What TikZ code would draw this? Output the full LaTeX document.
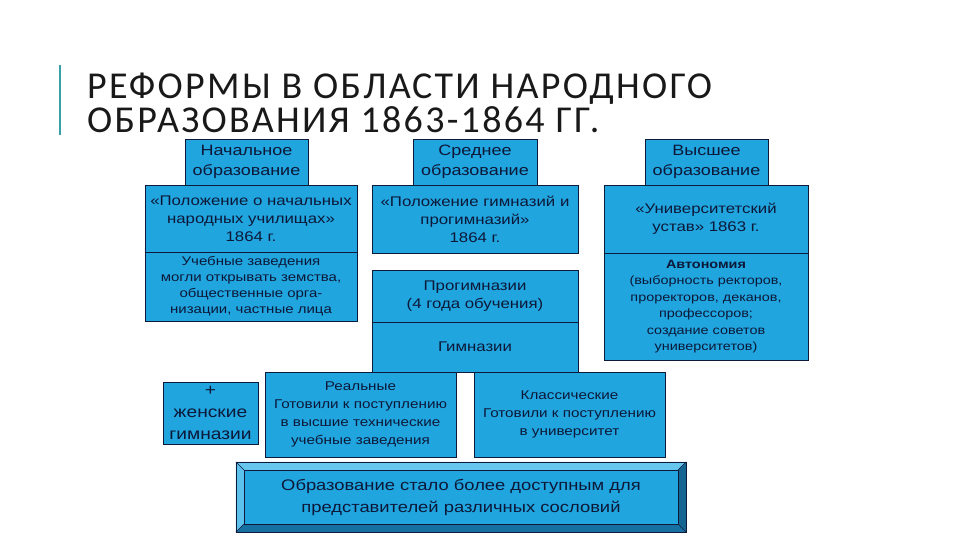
\documentclass[tikz,border=0pt]{standalone}
\usepackage{fontspec}
\setmainfont[FakeStretch=1.2]{Liberation Sans}
\newfontfamily\titlefont[LetterSpace=6]{Carlito}
\definecolor{boxfill}{HTML}{20A5DF}
\definecolor{boxline}{HTML}{0E1A3A}
\definecolor{boxtext}{HTML}{0C1838}
\definecolor{bevellight}{HTML}{66C6EE}
\definecolor{beveldark}{HTML}{1670A2}
\definecolor{titlebar}{HTML}{3A9FA8}
\begin{document}
\begin{tikzpicture}[x=1pt,y=-1pt,
 level/.style={draw=boxline,fill=boxfill,text=boxtext,inner sep=0pt,align=center,
   font=\fontsize{15}{20}\selectfont},
 act/.style={level,font=\fontsize{14}{18}\selectfont},
 note/.style={level,font=\fontsize{12}{16.5}\selectfont},
 kind/.style={level,font=\fontsize{12.7}{18}\selectfont},
 heading/.style={anchor=base west,inner sep=0pt,text=black!90,text height=24pt,text depth=0pt,
   font=\titlefont\fontsize{38}{38}\selectfont},
 bevel/.style={draw=boxline,line width=0.6pt}
]
\useasboundingbox (0,0) rectangle (960,540);
% title
\draw[titlebar,line width=2pt] (60,65) -- (60,135);
\node[heading] (titleupper) at (87,99) {РЕФОРМЫ В ОБЛАСТИ НАРОДНОГО};
\node[heading] (titlelower) at (87,133) {ОБРАЗОВАНИЯ 1863-1864 ГГ.};
% primary education
\node[act,minimum width=212,minimum height=67] (primact) at (251,218.5)
 {«Положение о начальных\\народных училищах»\\1864 г.};
\node[note,minimum width=212,minimum height=69,font=\fontsize{12.5}{16}\selectfont] (primnote) at (251,286.5)
 {Учебные заведения\\могли открывать земства,\\общественные орга-\\низации, частные лица};
\node[level,minimum width=123,minimum height=46] (primhead) at (246.5,162)
 {Начальное\\образование};
% secondary education
\node[act,minimum width=206,minimum height=68] (secact) at (475,219)
 {«Положение гимназий и\\прогимназий»\\1864 г.};
\node[level,minimum width=124,minimum height=46] (sechead) at (475,162)
 {Среднее\\образование};
\node[act,minimum width=206,minimum height=52] (progymn) at (475,296)
 {Прогимназии\\(4 года обучения)};
\node[act,minimum width=206,minimum height=50] (gymn) at (475,347)
 {Гимназии};
% higher education
\node[act,minimum width=204,minimum height=68] (highact) at (706,219)
 {«Университетский\\устав» 1863 г.};
\node[note,minimum width=204,minimum height=107] (autonomy) at (706,306.5)
 {\textbf{Автономия}\\(выборность ректоров,\\проректоров, деканов,\\профессоров;\\создание советов\\университетов)};
\node[level,minimum width=123,minimum height=46] (highhead) at (706.5,162)
 {Высшее\\образование};
% kinds of gymnasia
\node[level,minimum width=95,minimum height=62,font=\fontsize{16}{22}\selectfont] (female) at (210.5,413)
 {+\\женские\\гимназии};
\node[kind,minimum width=191,minimum height=85] (real) at (360.5,414.5)
 {Реальные\\Готовили к поступлению\\в высшие технические\\учебные заведения};
\node[kind,minimum width=191,minimum height=85] (classic) at (569.5,414.5)
 {Классические\\Готовили к поступлению\\в университет};
% result
\node[level,minimum width=450,minimum height=70] (result) at (461,497) {};
\fill[bevellight] (result.north west) -- (result.north east) -- ([shift={(-8,8)}]result.north east)
  -- ([shift={(8,8)}]result.north west) -- cycle;
\fill[bevellight!85!boxfill] (result.north west) -- ([shift={(8,8)}]result.north west)
  -- ([shift={(8,-8)}]result.south west) -- (result.south west) -- cycle;
\fill[beveldark] (result.south west) -- (result.south east) -- ([shift={(-8,-8)}]result.south east)
  -- ([shift={(8,-8)}]result.south west) -- cycle;
\fill[beveldark!90!black] (result.north east) -- ([shift={(-8,8)}]result.north east)
  -- ([shift={(-8,-8)}]result.south east) -- (result.south east) -- cycle;
\draw[bevel] (result.north west) rectangle (result.south east);
\draw[bevel] ([shift={(8,8)}]result.north west) rectangle ([shift={(-8,-8)}]result.south east);
\draw[bevel] (result.north west) -- ([shift={(8,8)}]result.north west)
  (result.north east) -- ([shift={(-8,8)}]result.north east)
  (result.south west) -- ([shift={(8,-8)}]result.south west)
  (result.south east) -- ([shift={(-8,-8)}]result.south east);
\node[text=boxtext,align=center,font=\fontsize{15.3}{22}\selectfont] (resulttext) at (result)
 {Образование стало более доступным для\\представителей различных сословий};
\end{tikzpicture}
\end{document}
